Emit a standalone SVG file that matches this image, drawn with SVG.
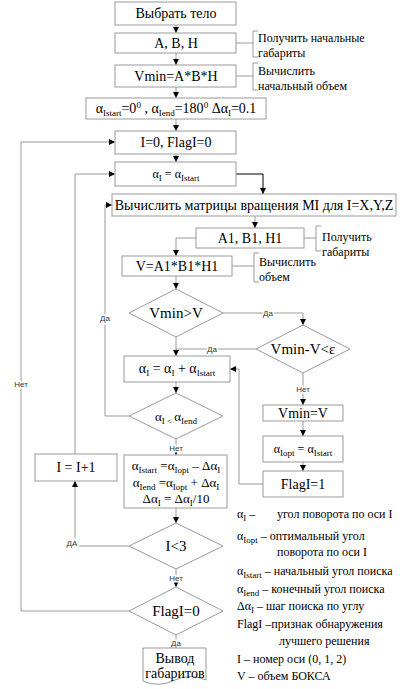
<svg xmlns="http://www.w3.org/2000/svg" width="400" height="689" viewBox="0 0 400 689">
<defs>
<marker id="a" viewBox="0 0 6 6" refX="6" refY="3" markerWidth="6" markerHeight="6" orient="auto" markerUnits="userSpaceOnUse"><path d="M0,0 L6,3 L0,6 z" fill="#000"/></marker>
<style>
.b{fill:#fff;stroke:#9a9a9a;stroke-width:1}
.c{fill:none;stroke:#9a9a9a;stroke-width:1}
.k{fill:none;stroke:#000;stroke-width:1}
.t{font-family:"Liberation Serif",serif;font-size:14px;fill:#000;text-anchor:middle}
.n{font-family:"Liberation Serif",serif;font-size:12px;fill:#000}
.l{font-family:"Liberation Sans",sans-serif;font-size:8px;fill:#333;text-anchor:middle;stroke:#fff;stroke-width:3px;paint-order:stroke}
.s{font-size:9px}
</style>
</defs>
<rect width="400" height="689" fill="#fff"/>
<g id="connectors">
<path class="c" d="M176,25V33" marker-end="url(#a)"/>
<path class="c" d="M176,53V65" marker-end="url(#a)"/>
<path class="c" d="M176,87V98" marker-end="url(#a)"/>
<path class="c" d="M176,119V131" marker-end="url(#a)"/>
<path class="c" d="M176,154V162" marker-end="url(#a)"/>
<path class="k" d="M236,174H263V194" marker-end="url(#a)"/>
<path class="c" d="M255,216V228" marker-end="url(#a)"/>
<path class="c" d="M196,238H176V256" marker-end="url(#a)"/>
<path class="c" d="M176,276V289" marker-end="url(#a)"/>
<path class="c" d="M223,313H303V325" marker-end="url(#a)"/>
<path class="c" d="M256,349H176" />
<path class="c" d="M176,337V356" marker-end="url(#a)"/>
<path class="c" d="M176,382V393" marker-end="url(#a)"/>
<path class="c" d="M130,416H105V205H112" marker-end="url(#a)"/>
<path class="c" d="M176,439V455" marker-end="url(#a)"/>
<path class="c" d="M176,508V523" marker-end="url(#a)"/>
<path class="c" d="M130,546H75V481" marker-end="url(#a)"/>
<path class="c" d="M75,454V174H115" marker-end="url(#a)"/>
<path class="c" d="M130,611H21V142H115" marker-end="url(#a)"/>
<path class="c" d="M176,569V587" marker-end="url(#a)"/>
<path class="c" d="M176,635V648"/>
<path class="c" d="M303,373V405" marker-end="url(#a)"/>
<path class="c" d="M303,421V436" marker-end="url(#a)"/>
<path class="c" d="M303,462V471" marker-end="url(#a)"/>
<path class="c" d="M263,484H239V369H230" marker-end="url(#a)"/>
<text class="l" x="268" y="316">Да</text>
<text class="l" x="212" y="352">Да</text>
<text class="l" x="105" y="321">Да</text>
<text class="l" x="176" y="451">Нет</text>
<text class="l" x="72" y="546">ДА</text>
<text class="l" x="21" y="387">Нет</text>
<text class="l" x="176" y="581">Нет</text>
<text class="l" x="176" y="646">Да</text>
<text class="l" x="303" y="392">Нет</text>
</g>
<g id="n1"><rect class="b" x="115" y="2" width="121" height="23"/><text class="t" x="176" y="18">Выбрать тело</text></g>
<g id="n2"><rect class="b" x="115" y="33" width="121" height="20"/><text class="t" x="176" y="48">A, B, H</text>
<path class="c" d="M236,43H253M258,31H253V57H258"/><text class="n" x="258" y="42">Получить начальные</text><text class="n" x="258" y="57">габариты</text></g>
<g id="n3"><rect class="b" x="115" y="65" width="121" height="22"/><text class="t" x="176" y="81">Vmin=A*B*H</text>
<path class="c" d="M236,76H253M258,63H253V90H258"/><text class="n" x="258" y="75">Вычислить</text><text class="n" x="258" y="90">начальный объем</text></g>
<g id="n4"><rect class="b" x="86" y="98" width="180" height="21"/><text class="t" x="176" y="113">α<tspan class="s" dy="3">Istart</tspan><tspan dy="-3">=0</tspan><tspan class="s" dy="-5">0</tspan><tspan dy="5"> ,  α</tspan><tspan class="s" dy="3">Iend</tspan><tspan dy="-3">=180</tspan><tspan class="s" dy="-5">0</tspan><tspan dy="5">  Δα</tspan><tspan class="s" dy="3">I</tspan><tspan dy="-3">=0.1</tspan></text></g>
<g id="n5"><rect class="b" x="115" y="131" width="121" height="23"/><text class="t" x="176" y="147">I=0,   FlagI=0</text></g>
<g id="n6"><rect class="b" x="115" y="162" width="121" height="24"/><text class="t" x="176" y="178" style="font-size:12px">α<tspan class="s" dy="3">I</tspan><tspan dy="-3"> = α</tspan><tspan class="s" dy="3">Istart</tspan></text></g>
<g id="n7"><rect class="b" x="112" y="194" width="284" height="22"/><text class="t" x="254" y="210">Вычислить матрицы вращения MI для I=X,Y,Z</text></g>
<g id="n8"><rect class="b" x="196" y="228" width="108" height="20"/><text class="t" x="250" y="243">A1, B1, H1</text>
<path class="c" d="M304,238H316M321,226H316V251H321"/><text class="n" x="322" y="241">Получить</text><text class="n" x="322" y="256">габариты</text></g>
<g id="n9"><rect class="b" x="122" y="256" width="110" height="20"/><text class="t" x="177" y="271">V=A1*B1*H1</text>
<path class="c" d="M232,266H254M259,253H254V282H259"/><text class="n" x="259" y="266">Вычислить</text><text class="n" x="259" y="281">объем</text></g>
<g id="n10"><path class="b" d="M176,289L223,313L176,337L129,313Z"/><text class="t" x="176" y="318" style="font-size:15px">Vmin&gt;V</text></g>
<g id="n11"><path class="b" d="M303,325L350,349L303,373L256,349Z"/><text class="t" x="303" y="354" style="font-size:15px">Vmin-V&lt;ε</text></g>
<g id="n12"><rect class="b" x="124" y="356" width="106" height="26"/><text class="t" x="177" y="373">α<tspan class="s" dy="3">I</tspan><tspan dy="-3"> = α</tspan><tspan class="s" dy="3">I</tspan><tspan dy="-3"> + α</tspan><tspan class="s" dy="3">Istart</tspan></text></g>
<g id="n13"><path class="b" d="M176,393L223,416L176,439L129,416Z"/><text class="t" x="176" y="421" style="font-size:13px">α<tspan class="s" dy="3">I &lt; </tspan><tspan dy="-3">α</tspan><tspan class="s" dy="3">Iend</tspan></text></g>
<g id="n14"><rect class="b" x="124" y="455" width="103" height="53"/>
<text class="t" x="176" y="470" style="font-size:13px">α<tspan class="s" dy="3">Istart</tspan><tspan dy="-3"> =α</tspan><tspan class="s" dy="3">Iopt</tspan><tspan dy="-3"> – Δα</tspan><tspan class="s" dy="3">I</tspan></text>
<text class="t" x="176" y="487" style="font-size:13px">α<tspan class="s" dy="3">Iend</tspan><tspan dy="-3"> =α</tspan><tspan class="s" dy="3">Iopt</tspan><tspan dy="-3"> + Δα</tspan><tspan class="s" dy="3">I</tspan></text>
<text class="t" x="176" y="503" style="font-size:13px">Δα<tspan class="s" dy="3">I</tspan><tspan dy="-3"> = Δα</tspan><tspan class="s" dy="3">I</tspan><tspan dy="-3">/10</tspan></text></g>
<g id="n15"><rect class="b" x="35" y="454" width="82" height="27"/><text class="t" x="76" y="472">I = I+1</text></g>
<g id="n16"><path class="b" d="M176,523L223,546L176,569L129,546Z"/><text class="t" x="176" y="551" style="font-size:15px">I&lt;3</text></g>
<g id="n17"><path class="b" d="M176,587L223,611L176,635L129,611Z"/><text class="t" x="176" y="616" style="font-size:15px">FlagI=0</text></g>
<g id="n18"><path class="b" d="M143,648H206V680Q190,673 175,680Q159,688 143,681Z"/><text class="t" x="175" y="663">Вывод</text><text class="t" x="175" y="678">габаритов</text></g>
<g id="n19"><rect class="b" x="263" y="405" width="80" height="16"/><text class="t" x="303" y="418">Vmin=V</text></g>
<g id="n20"><rect class="b" x="263" y="436" width="80" height="26"/><text class="t" x="303" y="453" style="font-size:12px">α<tspan class="s" dy="3">Iopt</tspan><tspan dy="-3"> = α</tspan><tspan class="s" dy="3">Istart</tspan></text></g>
<g id="n21"><rect class="b" x="263" y="471" width="80" height="26"/><text class="t" x="303" y="489">FlagI=1</text></g>
<g id="legend" class="n">
<text class="n" x="237" y="518">α<tspan class="s" dy="3">I</tspan><tspan dy="-3">  –</tspan></text><text class="n" x="277" y="518">угол поворота по оси I</text>
<text class="n" x="237" y="540">α<tspan class="s" dy="3">Iopt</tspan><tspan dy="-3"> – оптимальный угол</tspan></text>
<text class="n" x="277" y="556">поворота по оси I</text>
<text class="n" x="237" y="575">α<tspan class="s" dy="3">Istart</tspan><tspan dy="-3"> – начальный угол поиска</tspan></text>
<text class="n" x="237" y="593">α<tspan class="s" dy="3">Iend</tspan><tspan dy="-3"> – конечный угол поиска</tspan></text>
<text class="n" x="237" y="610">Δα<tspan class="s" dy="3">I</tspan><tspan dy="-3">   – шаг поиска по углу</tspan></text>
<text class="n" x="237" y="628">FlagI –признак обнаружения</text>
<text class="n" x="279" y="645">лучшего решения</text>
<text class="n" x="237" y="663">I – номер оси (0, 1, 2)</text>
<text class="n" x="237" y="680">V – объем БОКСА</text>
</g>
</svg>
